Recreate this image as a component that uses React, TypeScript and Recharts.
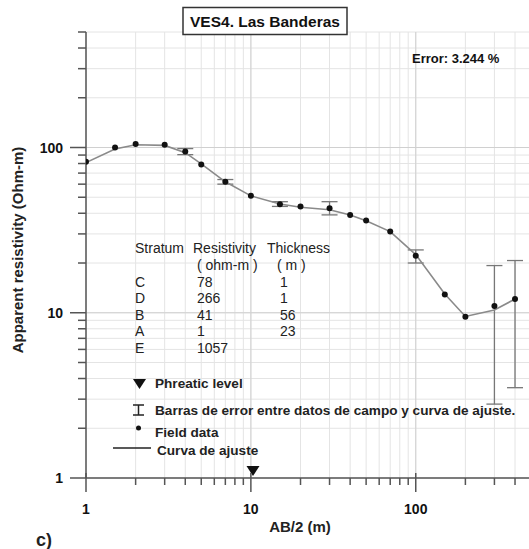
import { ComposedChart, Line, Scatter, XAxis, YAxis, CartesianGrid, ErrorBar, ReferenceLine } from 'recharts';

// AB/2 spacing (m) and apparent resistivity (ohm-m)
const abHalf = [1, 1.5, 2, 3, 4, 5, 7, 10, 15, 20, 30, 40, 50, 70, 100, 150, 200, 300, 400];
const fieldRho = [82, 100, 105, 104, 94.5, 79, 62, 51, 45.4, 43.9, 42.9, 39.1, 36.1, 31, 22.1, 12.9, 9.47, 11, 12.1];
const fitRho = [81, 98, 104, 103, 93, 79.5, 62, 51, 45.5, 43.5, 42, 39, 36, 31, 22.5, 13, 9.5, 10.4, 12.1];

// error bars between field data and fitted curve
const errAb = [4, 7, 15, 30, 100, 300, 400];
const errRho = [94.5, 62, 45.4, 42.9, 22.1, 11, 12.1];
const errLow = [90.5, 60, 44, 39.1, 20, 2.8, 3.52];
const errHigh = [98.5, 64, 47, 47, 24, 19.3, 20.7];

const phreaticAb = 10.3;

const xTicks = [1, 2, 3, 4, 5, 6, 7, 8, 9, 10, 20, 30, 40, 50, 60, 70, 80, 90, 100, 200, 300, 400, 500];
const yTicks = [1, 2, 3, 4, 5, 6, 7, 8, 9, 10, 20, 30, 40, 50, 60, 70, 80, 90, 100, 200, 300, 400, 500];
const majorTicks = [1, 10, 100];

const strata = ['C', 'D', 'B', 'A', 'E'];
const resistivity = ['78', '266', '41', '1', '1057'];
const thickness = ['1', '1', '56', '23', ''];

const FONT = "'Liberation Sans', Arial, sans-serif";
const AXIS = '#555';

const fieldData = abHalf.map((x, i) => ({ x, y: fieldRho[i] }));
const fitData = abHalf.map((x, i) => ({ x, y: fitRho[i] }));
const errData = errAb.map((x, i) => ({ x, y: errRho[i], err: [errRho[i] - errLow[i], errHigh[i] - errRho[i]] }));

function XTick({ x, y, payload }: any) {
  const major = majorTicks.includes(payload.value);
  return (
    <g>
      <line x1={x} x2={x} y1={major ? y - 5 : y} y2={y + (major ? 14 : 7)} stroke={AXIS} strokeWidth={1.5} />
      {major && (
        <text x={x} y={y + 36} textAnchor="middle" fontFamily={FONT} fontWeight="bold" fontSize={14} fill="#111">
          {payload.value}
        </text>
      )}
    </g>
  );
}

function YTick({ x, y, payload }: any) {
  const major = majorTicks.includes(payload.value);
  return (
    <g>
      <line x1={x - (major ? 16 : 8)} x2={x} y1={y} y2={y} stroke={AXIS} strokeWidth={1.5} />
      {major && (
        <text x={x - 23} y={y + 5} textAnchor="end" fontFamily={FONT} fontWeight="bold" fontSize={14} fill="#111">
          {payload.value}
        </text>
      )}
    </g>
  );
}

const dot = (p: any) => <circle cx={p.cx} cy={p.cy} r={3} fill="#111" />;
const noShape = () => <g />;
const triangle = (p: any) => (
  <path d={`M${p.cx - 6.5},${p.cy - 12} L${p.cx + 6.5},${p.cy - 12} L${p.cx},${p.cy - 2} Z`} fill="#111" />
);

export default function App() {
  const t = { fontFamily: FONT, fill: '#222' };
  return (
    <div style={{ position: 'relative', width: 529, height: 549, overflow: 'hidden', background: '#fff' }}>
      <style>{'body{margin:0}'}</style>
      <ComposedChart width={531} height={549} margin={{ top: 32, right: 0, bottom: 0, left: 0 }}>
        <CartesianGrid stroke="#e4e4e4" strokeWidth={1} />
        <XAxis
          dataKey="x"
          type="number"
          scale="log"
          domain={[1, 500]}
          ticks={xTicks}
          interval={0}
          height={71}
          tickSize={0}
          tickMargin={0}
          tickLine={false}
          axisLine={{ stroke: AXIS, strokeWidth: 1.5 }}
          tick={<XTick />}
          allowDataOverflow
        />
        <YAxis
          type="number"
          scale="log"
          domain={[1, 500]}
          ticks={yTicks}
          interval={0}
          width={86}
          tickSize={0}
          tickMargin={0}
          tickLine={false}
          axisLine={{ stroke: AXIS, strokeWidth: 1.5 }}
          tick={<YTick />}
          allowDataOverflow
        />
        {[10, 100].map((v) => (
          <ReferenceLine key={'x' + v} x={v} stroke="#d0d0d0" />
        ))}
        {[10, 100].map((v) => (
          <ReferenceLine key={'y' + v} y={v} stroke="#d0d0d0" />
        ))}
        <Scatter data={errData} dataKey="y" shape={noShape} isAnimationActive={false}>
          <ErrorBar dataKey="err" direction="y" width={8} stroke="#777" strokeWidth={1.3} />
        </Scatter>
        <Line
          data={fitData}
          dataKey="y"
          type="linear"
          stroke="#8a8a8a"
          strokeWidth={1.6}
          dot={false}
          isAnimationActive={false}
        />
        <Scatter data={fieldData} dataKey="y" shape={dot} isAnimationActive={false} />
        <Scatter data={[{ x: phreaticAb, y: 1 }]} dataKey="y" shape={triangle} isAnimationActive={false} />
      </ComposedChart>

      <svg width={529} height={549} style={{ position: 'absolute', left: 0, top: 0, pointerEvents: 'none' }}>
        {/* title */}
        <rect x={183} y={7.5} width={164} height={27} fill="#fff" stroke="#333" strokeWidth={1.5} />
        <text x={265} y={27} textAnchor="middle" fontSize={15.5} fontWeight="bold" {...t} fill="#111">
          VES4. Las Banderas
        </text>
        <text x={412} y={63} fontSize={13} fontWeight="bold" {...t} fill="#111">
          Error: 3.244 %
        </text>

        {/* axis labels */}
        <text
          x={17}
          y={250}
          transform="rotate(-90, 17, 250)"
          textAnchor="middle"
          dominantBaseline="central"
          fontSize={15}
          fontWeight="bold"
          {...t}
        >
          Apparent resistivity (Ohm-m)
        </text>
        <text x={300} y={532} textAnchor="middle" fontSize={15} fontWeight="bold" {...t}>
          AB/2 (m)
        </text>
        <text x={36} y={546} fontSize={18} fontWeight="bold" {...t}>
          c)
        </text>

        {/* layer table */}
        <g fontSize={14} {...t}>
          <text x={135} y={253}>Stratum</text>
          <text x={193} y={253}>Resistivity</text>
          <text x={267} y={253}>Thickness</text>
          <text x={197} y={270}>( ohm-m )</text>
          <text x={277} y={270}>( m )</text>
          {strata.map((s, i) => (
            <g key={s}>
              <text x={135} y={286.5 + i * 16.6}>{s}</text>
              <text x={197} y={286.5 + i * 16.6}>{resistivity[i]}</text>
              <text x={280} y={286.5 + i * 16.6}>{thickness[i]}</text>
            </g>
          ))}
        </g>

        {/* legend */}
        <g fontSize={13.6} fontWeight="bold" {...t}>
          <path d="M133,379 L146,379 L139.5,389 Z" fill="#111" />
          <text x={155} y={388}>Phreatic level</text>
          <g stroke="#222" strokeWidth={1.5}>
            <line x1={133} x2={144} y1={405} y2={405} />
            <line x1={133} x2={144} y1={415} y2={415} />
            <line x1={138.5} x2={138.5} y1={405} y2={415} />
          </g>
          <text x={155} y={415}>Barras de error entre datos de campo y curva de ajuste.</text>
          <circle cx={138.5} cy={428} r={2.5} fill="#111" />
          <text x={155} y={437}>Field data</text>
          <line x1={113} x2={151} y1={448} y2={448} stroke="#222" strokeWidth={1.5} />
          <text x={157} y={455}>Curva de ajuste</text>
        </g>
      </svg>
    </div>
  );
}
